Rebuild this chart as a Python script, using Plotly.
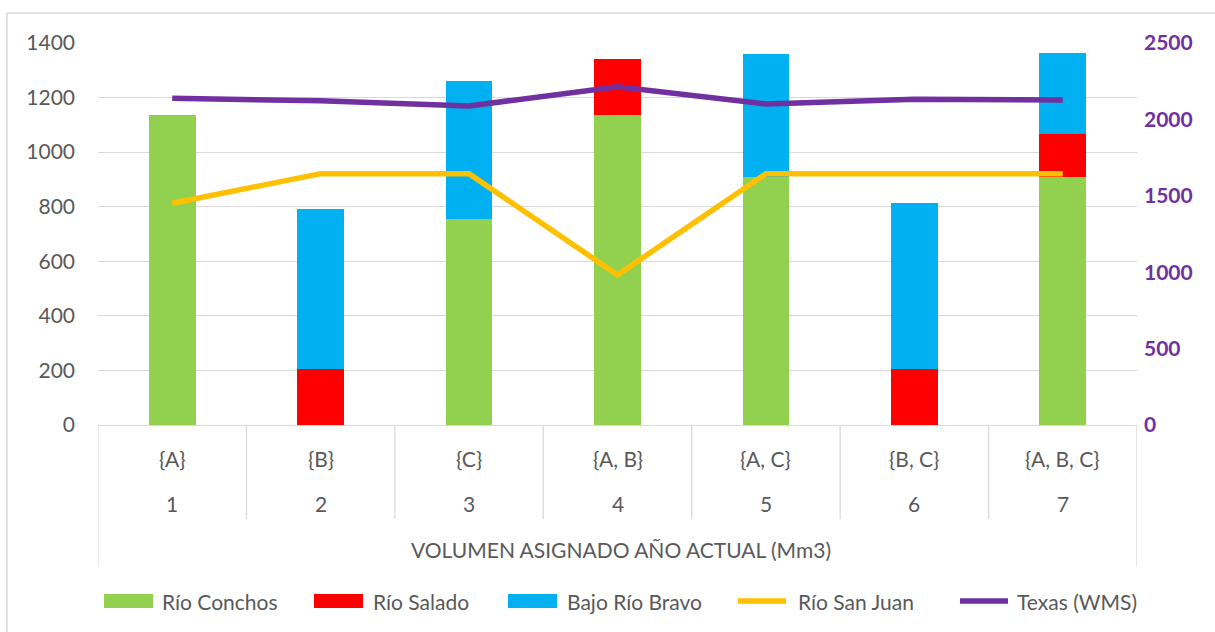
import plotly.graph_objects as go

# ---- data ----
set_labels = ["{A}", "{B}", "{C}", "{A, B}", "{A, C}", "{B, C}", "{A, B, C}"]
case_numbers = ["1", "2", "3", "4", "5", "6", "7"]
x_title = "VOLUMEN ASIGNADO AÑO ACTUAL (Mm3)"

rio_conchos = [1136, 0, 754, 1136, 910, 0, 910]
rio_salado = [0, 204, 0, 206, 0, 204, 158]
bajo_rio_bravo = [0, 588, 508, 0, 450, 611, 295]
rio_san_juan = [1451, 1645, 1645, 982, 1645, 1645, 1645]   # right axis
texas_wms = [2138, 2122, 2088, 2214, 2101, 2132, 2127]      # right axis

names = ["Río Conchos", "Río Salado", "Bajo Río Bravo", "Río San Juan", "Texas (WMS)"]
colors = ["#92D050", "#FF0000", "#00B0F0", "#FFC000", "#7030A0"]

# ---- layout geometry (pixels) ----
W, H = 1215, 632
PL, PR, PT, PB = 98, 1137, 43, 425
FONT = "Lato"
FS = 21
GRAY = "#595959"
LINEGRAY = "#D9D9D9"

def xp(px):
    return (px - PL) / (PR - PL)

def yp(py):
    return (PB - py) / (PB - PT)

pos = list(range(1, len(set_labels) + 1))

fig = go.Figure()
for vals, name, col in zip([rio_conchos, rio_salado, bajo_rio_bravo], names[:3], colors[:3]):
    fig.add_trace(go.Bar(x=pos, y=vals, name=name, marker=dict(color=col, line=dict(width=0)),
                         width=0.315, showlegend=False))
for vals, name, col in zip([rio_san_juan, texas_wms], names[3:], colors[3:]):
    fig.add_trace(go.Scatter(x=pos, y=vals, name=name, mode="lines", yaxis="y2",
                             line=dict(color=col, width=5.5), showlegend=False))

shapes = []
annotations = []

# category dividers
for i in range(len(pos) + 1):
    xv = 0.5 + i
    outer = (i == 0 or i == len(pos))
    shapes.append(dict(type="line", xref="x", yref="paper", x0=xv, x1=xv,
                       y0=0, y1=yp(566 if outer else 519),
                       line=dict(color=LINEGRAY, width=1.3)))

for p, lab, num in zip(pos, set_labels, case_numbers):
    annotations.append(dict(x=p, y=yp(458), xref="x", yref="paper", text=lab, showarrow=False,
                            font=dict(family=FONT, size=FS, color=GRAY), yanchor="middle"))
    annotations.append(dict(x=p, y=yp(504), xref="x", yref="paper", text=num, showarrow=False,
                            font=dict(family=FONT, size=FS, color=GRAY), yanchor="middle"))
annotations.append(dict(x=xp(621), y=yp(549), xref="paper", yref="paper", text=x_title,
                        showarrow=False, font=dict(family=FONT, size=FS, color=GRAY),
                        yanchor="middle", xanchor="center"))

# chart border (left and top)
shapes.append(dict(type="line", xref="paper", yref="paper", x0=xp(7), x1=xp(7), y0=yp(13), y1=yp(640),
                   line=dict(color=LINEGRAY, width=1.5)))
shapes.append(dict(type="line", xref="paper", yref="paper", x0=xp(7), x1=xp(1220), y0=yp(13), y1=yp(13),
                   line=dict(color=LINEGRAY, width=1.5)))

# manual legend
leg_y = 601
leg_items = [(104, 160, "bar"), (314, 371, "bar"), (508, 565, "bar"), (736, 796, "line"), (958, 1015, "line")]
for (sx, tx, kind), name, col in zip(leg_items, names, colors):
    if kind == "bar":
        shapes.append(dict(type="rect", xref="paper", yref="paper", x0=xp(sx), x1=xp(sx + 49),
                           y0=yp(leg_y - 7), y1=yp(leg_y + 7), fillcolor=col, line=dict(width=0)))
    else:
        shapes.append(dict(type="line", xref="paper", yref="paper", x0=xp(sx + 2), x1=xp(sx + 50),
                           y0=yp(leg_y), y1=yp(leg_y), line=dict(color=col, width=5.5)))
    annotations.append(dict(x=xp(tx), y=yp(leg_y), xref="paper", yref="paper", text=name,
                            showarrow=False, xanchor="left", yanchor="middle",
                            font=dict(family=FONT, size=FS, color=GRAY)))

fig.update_layout(
    width=W, height=H,
    margin=dict(l=PL, r=W - PR, t=PT, b=H - PB, pad=0),
    paper_bgcolor="white", plot_bgcolor="white",
    barmode="stack",
    showlegend=False,
    font=dict(family=FONT, color=GRAY),
    xaxis=dict(range=[0.5, 7.5], showticklabels=False, ticks="", showgrid=False, zeroline=False,
               showline=True, linecolor=LINEGRAY, linewidth=1.3, fixedrange=True),
    yaxis=dict(range=[0, 1400], dtick=200, showgrid=True, gridcolor=LINEGRAY, gridwidth=1.3,
               zeroline=False, tickfont=dict(family=FONT, size=FS, color=GRAY),
               ticklabelstandoff=22, ticks=""),
    yaxis2=dict(range=[0, 2500], dtick=500, overlaying="y", side="right", showgrid=False,
                zeroline=False, tickfont=dict(family=FONT, size=FS, color="#7030A0", weight="bold"),
                ticklabelstandoff=6, ticks=""),
    shapes=shapes,
    annotations=annotations,
)

fig.write_html("out.html")
